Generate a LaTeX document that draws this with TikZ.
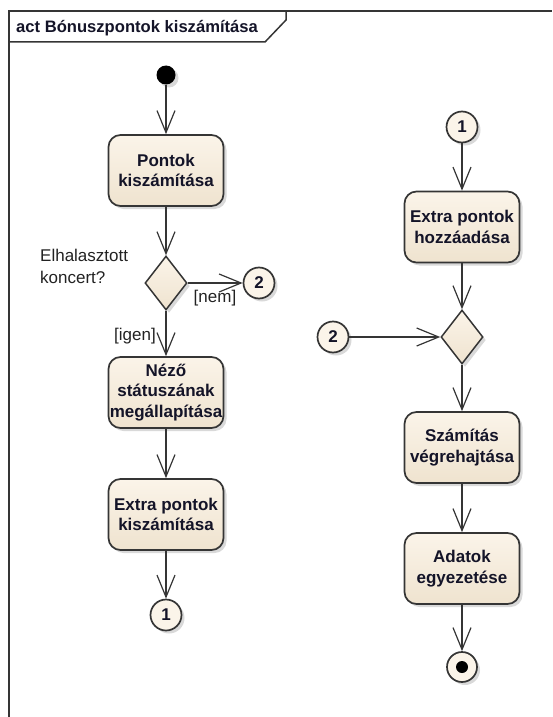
\documentclass[tikz,border=0pt]{standalone}
\usepackage{fontspec}
\setmainfont{Liberation Sans}
\usetikzlibrary{arrows.meta,shapes.geometric,shadows}
\definecolor{fillA}{HTML}{FBF4E9}
\definecolor{fillB}{HTML}{EFE3CF}
\definecolor{edgec}{HTML}{353535}
\definecolor{txt}{HTML}{141428}
\definecolor{lbl}{HTML}{222222}
\begin{document}
\begin{tikzpicture}[x=1pt,y=-1pt,
  shad/.style={drop shadow={shadow xshift=3pt, shadow yshift=-3pt, opacity=0.3}},
  act/.style={rectangle, rounded corners=12pt, draw=edgec, line width=1.7pt,
    top color=fillA, bottom color=fillB, minimum width=115pt, minimum height=71pt,
    align=center, font=\fontsize{17}{20.5}\selectfont\bfseries, text=txt, inner sep=1pt, shad},
  dec/.style={diamond, draw=edgec, line width=1.5pt, top color=fillA, bottom color=fillB,
    minimum width=42pt, minimum height=54pt, inner sep=0pt, shad},
  conn/.style={circle, draw=edgec, line width=1.7pt, fill=fillA, minimum size=31pt,
    inner sep=0pt, font=\fontsize{17}{20}\selectfont\bfseries, text=txt, shad},
  startdot/.style={circle, fill=black, minimum size=19pt, inner sep=0pt, shad},
  enddot/.style={circle, draw=edgec, line width=1.7pt, fill=fillA, minimum size=30pt, inner sep=0pt, shad,
    path picture={\fill[black] (path picture bounding box.center) circle (6pt);}},
  flow/.style={draw=edgec, line width=1.2pt, -{Straight Barb[length=22pt, width=18pt, line width=1.2pt]}},
  lab/.style={font=\fontsize{17}{22}\selectfont, text=lbl, inner sep=0pt},
  frameline/.style={draw=edgec, line width=1.5pt}
]
\useasboundingbox (0,0) rectangle (552,717);
% frame
\draw[frameline] (9,717) -- (9,11) -- (552,11);
\draw[frameline] (286,11) -- (286,20) -- (265,42) -- (9,42);
\node[anchor=base west, font=\fontsize{16.6}{20}\selectfont\bfseries, text=txt, inner sep=0pt] (title) at (16,33) {act Bónuszpontok kiszámítása};

% left column
\node[startdot] (start) at (166,75) {};
\node[act] (A1) at (166,170.5) {Pontok\\kiszámítása};
\node[dec] (D1) at (166,283) {};
\node[conn] (C2a) at (259,283) {2};
\node[act] (A2) at (166,392.5) {Néző\\státuszának\\megállapítása};
\node[act] (A3) at (166,514.5) {Extra pontok\\kiszámítása};
\node[conn] (C1a) at (166,615) {1};

\node[lab, align=left, anchor=north west] (q) at (40,249) {Elhalasztott\\koncert?};
\node[lab] (nem) at (215,298) {[nem]};
\node[lab] (igen) at (135,336) {[igen]};

% right column
\node[conn] (C1b) at (462,127) {1};
\node[act] (B1) at (462,227) {Extra pontok\\hozzáadása};
\node[dec] (D2) at (462,337) {};
\node[conn] (C2b) at (333,337) {2};
\node[act] (B2) at (462,447.5) {Számítás\\végrehajtása};
\node[act] (B3) at (462,568.5) {Adatok\\egyezetése};
\node[enddot] (E) at (462,667) {};

% connectors
\draw[flow] (start) -- (A1);
\draw[flow] (A1) -- (D1);
\draw[flow] (D1) -- (C2a);
\draw[flow] (D1) -- (A2);
\draw[flow] (A2) -- (A3);
\draw[flow] (A3) -- (C1a);
\draw[flow] (C1b) -- (B1);
\draw[flow] (B1) -- (D2);
\draw[flow] (C2b) -- (D2);
\draw[flow] (D2) -- (B2);
\draw[flow] (B2) -- (B3);
\draw[flow] (B3) -- (E);
\end{tikzpicture}
\end{document}
